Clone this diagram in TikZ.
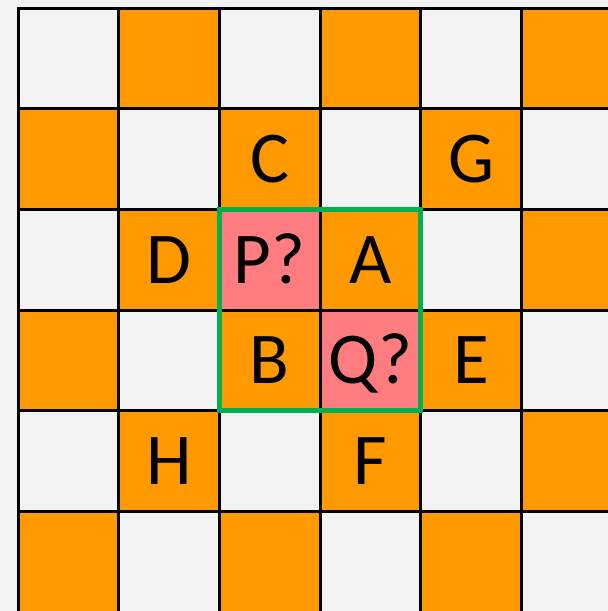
\documentclass[tikz,border=0pt]{standalone}
\usepackage{fontspec}
\setmainfont{Carlito}
\definecolor{bgc}{HTML}{F3F3F3}
\definecolor{org}{HTML}{FF9900}
\definecolor{pnk}{HTML}{FF7C80}
\definecolor{grn}{HTML}{00B050}
\begin{document}
\begin{tikzpicture}[x=1pt,y=-1pt,
  cellbox/.style={draw=black,line width=3pt,minimum size=100.7pt,inner sep=0pt,outer sep=0pt},
  lbl/.style={inner sep=0pt,text height=47pt,text depth=0pt,font=\fontsize{73}{73}\selectfont},
  frame/.style={draw=grn,line width=5pt}]
\useasboundingbox[fill=bgc] (0,0) rectangle (608,611);
\begin{scope}
\clip (0,0) rectangle (608,611);
\foreach \r in {0,...,5}{\foreach \c in {0,...,5}{
  \pgfmathtruncatemacro\k{mod(\r+\c,2)}
  \ifnum\k=1 \def\fc{org}\else\def\fc{bgc}\fi
  \node[cellbox,fill=\fc] (cell-\r-\c) at ({18+100.7*(\c+0.5)},{8+100.7*(\r+0.5)}) {};
}}
\end{scope}
\node[cellbox,fill=pnk] (pinkP) at (cell-2-2) {};
\node[cellbox,fill=pnk] (pinkQ) at (cell-3-3) {};
\draw[frame] (pinkP.north west) rectangle (pinkQ.south east);
\node[lbl] (lC) at (cell-1-2) {C};
\node[lbl] (lG) at (cell-1-4) {G};
\node[lbl] (lD) at (cell-2-1) {D};
\node[lbl] (lP) at (pinkP) {P?};
\node[lbl] (lA) at (cell-2-3) {A};
\node[lbl] (lB) at (cell-3-2) {B};
\node[lbl] (lQ) at (pinkQ) {Q?};
\node[lbl] (lE) at (cell-3-4) {E};
\node[lbl] (lH) at (cell-4-1) {H};
\node[lbl] (lF) at (cell-4-3) {F};
\end{tikzpicture}
\end{document}
